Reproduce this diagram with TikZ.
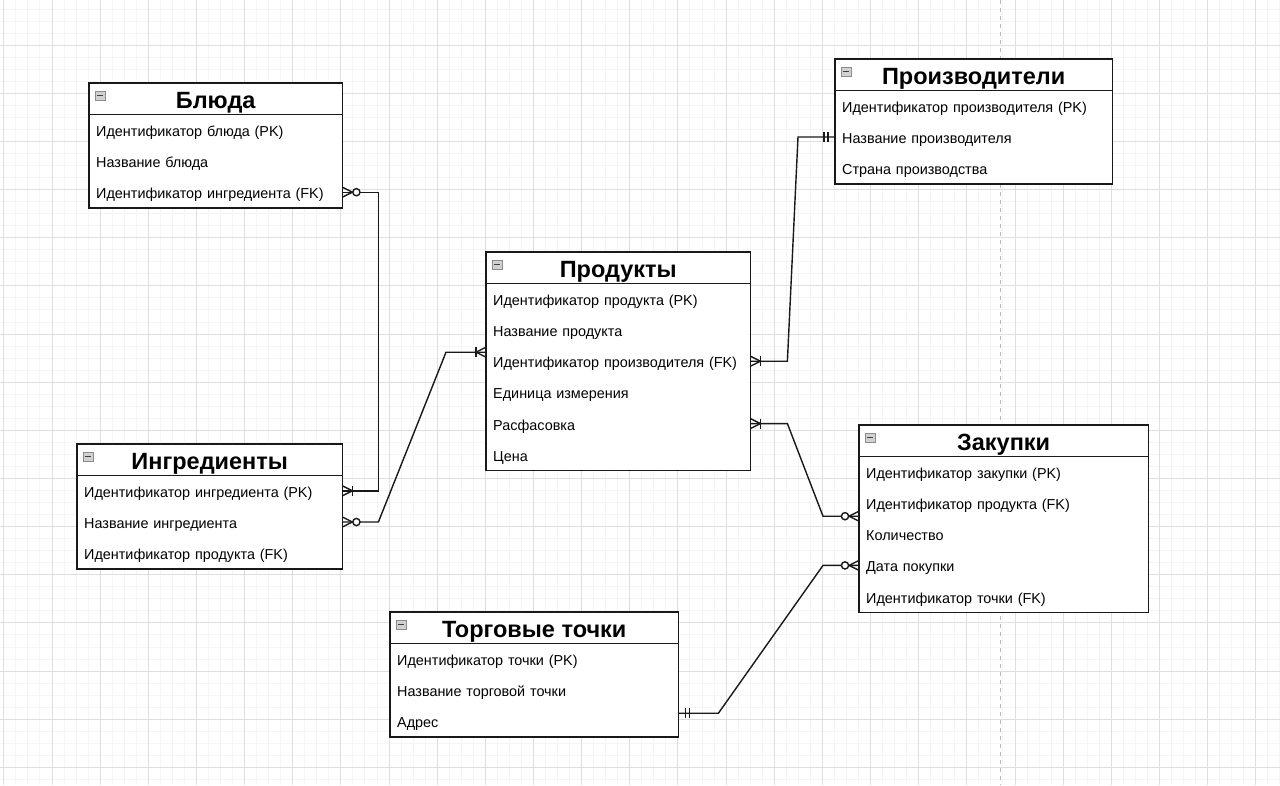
\documentclass[tikz,border=0pt]{standalone}
\usepackage{fontspec}
\setmainfont{Liberation Sans}
\tikzset{
 conn/.style={line width=1.4pt, black!90},
 frame/.style={draw=black!90, line width=1.3pt},
 hdr/.style={inner sep=0pt, minimum height=31pt, text height=18.8pt, text depth=0pt, font=\bfseries\fontsize{23.5}{28}\selectfont},
 erow/.style={inner xsep=7pt, inner ysep=0pt, minimum height=31.2pt, text height=13pt, text depth=0pt, align=left, font=\fontsize{14.4}{17}\selectfont},
 gridminor/.style={draw=black!4, line width=0.7pt},
 gridmajor/.style={draw=black!13, line width=0.7pt},
 pagebreak/.style={draw=black!28, dash pattern=on 4pt off 4pt, line width=0.8pt},
 iconbox/.style={fill=black!18, draw=black!45, line width=0.6pt},
 iconbar/.style={draw=black!75, line width=1pt},
}
\newcommand\ertable[7]{%
  \pgfmathsetmacro\ertw{#4-14}%
  \fill[white] (#2,-#3) rectangle ++(#4,{-31-31.2*#7});
  \node[hdr, minimum width=#4pt, anchor=north west] (#1) at (#2,-#3) {#5};
  \foreach \t [count=\i] in {#6} {
    \node[erow, text width=\ertw pt, anchor=north west] (#1-\i) at (#2,{-#3-31-31.2*(\i-1)}) {\t};
  }
  \draw[frame] (#1.north west) rectangle (#1-#7.south east);
  \draw[frame] (#1.south west) -- (#1.south east);
  \draw[iconbox] ([shift={(6pt,-8pt)}]#1.north west) rectangle ++(10pt,-9pt);
  \draw[iconbar] ([shift={(8pt,-12.5pt)}]#1.north west) -- ++(6pt,0);
}
\newcommand\ermany[2]{\draw[conn] ([yshift=5pt]#1) -- ([xshift=#2pt]#1) -- ([yshift=-5pt]#1);}
\newcommand\erzero[2]{\draw[conn, fill=white] ([xshift=#2pt]#1) circle (3.6pt);}
\newcommand\erbar[2]{\draw[conn] ([xshift=#2pt, yshift=5pt]#1) -- ([xshift=#2pt, yshift=-5pt]#1);}
\begin{document}
\begin{tikzpicture}[x=1pt,y=1pt]
\useasboundingbox (0,0) rectangle (1280,-785);
\fill[white] (0,0) rectangle (1280,-785);
% grid
\foreach \j in {0,...,106} \draw[gridminor] ({3.7+12.0375*\j},0) -- ++(0,-785);
\foreach \j in {-3,...,61} \draw[gridminor] (0,{-45-12.0375*\j}) -- ++(1280,0);
\foreach \k in {0,...,26} \draw[gridmajor] ({3.7+48.15*\k},0) -- ++(0,-785);
\foreach \k in {0,...,15} \draw[gridmajor] (0,{-45-48.15*\k}) -- ++(1280,0);
\draw[pagebreak] (1000,0) -- (1000,-785);
% tables
\ertable{b}{89}{83}{253}{Блюда}{Идентификатор блюда (PK),Название блюда,Идентификатор ингредиента (FK)}{3}
\ertable{m}{835}{59}{277}{Производители}{Идентификатор производителя (PK),Название производителя,Страна производства}{3}
\ertable{p}{486}{252}{264}{Продукты}{Идентификатор продукта (PK),Название продукта,Идентификатор производителя (FK),Единица измерения,Расфасовка,Цена}{6}
\ertable{i}{77}{444}{265}{Ингредиенты}{Идентификатор ингредиента (PK),Название ингредиента,Идентификатор продукта (FK)}{3}
\ertable{z}{859}{425}{289}{Закупки}{Идентификатор закупки (PK),Идентификатор продукта (FK),Количество,Дата покупки,Идентификатор точки (FK)}{5}
\ertable{t}{390}{612}{288}{Торговые точки}{Идентификатор точки (PK),Название торговой точки,Адрес}{3}
% connector end points off row centres
\coordinate (pin) at ([yshift=9pt]p-3.west);
\coordinate (zk) at ([yshift=-13.2pt]z-2.west);
\coordinate (tt) at ([yshift=8pt]t-3.east);
% connectors
\draw[conn] (b-3.east) -- ++(36,0) |- (i-1.east);
\ermany{b-3.east}{10} \erzero{b-3.east}{14}
\ermany{i-1.east}{10} \erbar{i-1.east}{10}

\draw[conn] (i-2.east) -- ++(36,0) -- ([xshift=-40pt]pin) -- (pin);
\ermany{i-2.east}{10} \erzero{i-2.east}{14}
\ermany{pin}{-10} \erbar{pin}{-10}

\draw[conn] (p-3.east) -- ++(37,0) -- ([xshift=-37pt]m-2.west) -- (m-2.west);
\ermany{p-3.east}{10} \erbar{p-3.east}{10}
\erbar{m-2.west}{-7} \erbar{m-2.west}{-11}

\draw[conn] (p-5.east) -- ++(37,0) -- ([xshift=-36pt]zk) -- (zk);
\ermany{p-5.east}{10} \erbar{p-5.east}{10}
\ermany{zk}{-10} \erzero{zk}{-14}

\draw[conn] (tt) -- ++(40,0) -- ([xshift=-36pt]z-4.west) -- (z-4.west);
\erbar{tt}{7} \erbar{tt}{11}
\ermany{z-4.west}{-10} \erzero{z-4.west}{-14}
\end{tikzpicture}
\end{document}
